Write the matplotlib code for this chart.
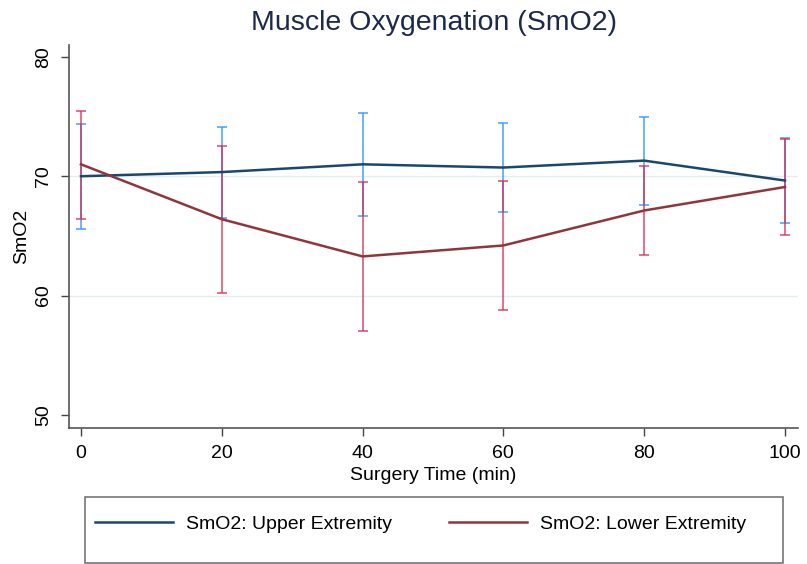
import matplotlib.pyplot as plt
from matplotlib.lines import Line2D
from matplotlib.patches import Rectangle

plt.rcParams['font.family'] = ['Liberation Sans', 'DejaVu Sans']

time = [0, 20, 40, 60, 80, 100]
upper_mean = [70.0, 70.35, 71.0, 70.73, 71.31, 69.64]
upper_lo = [65.6, 66.5, 66.7, 67.0, 67.6, 66.1]
upper_hi = [74.38, 74.1, 75.33, 74.43, 74.97, 73.2]
lower_mean = [71.0, 66.4, 63.28, 64.2, 67.13, 69.1]
lower_lo = [66.43, 60.18, 57.0, 58.8, 63.37, 65.06]
lower_hi = [75.5, 72.54, 69.52, 69.64, 70.9, 73.15]

xticks = [0, 20, 40, 60, 80, 100]
yticks = [50, 60, 70, 80]

navy = '#1a476f'
ci_blue = '#3399ff'
maroon = '#90353b'
ci_red = '#d62d55'

fig = plt.figure(figsize=(8.07, 5.64), dpi=100)
ax = fig.add_axes([69/807, 1-428/564, (798-69)/807, (428-45)/564])

for v in yticks[1:-1]:
    ax.axhline(v, color='#e3eef0', lw=1.0, zorder=0)

# confidence intervals
ax.vlines(time, upper_lo, upper_hi, color=ci_blue, lw=1.2, alpha=0.85, zorder=2)
ax.plot(time, upper_lo, '_', color=ci_blue, ms=7, mew=1.2, alpha=0.85, zorder=2)
ax.plot(time, upper_hi, '_', color=ci_blue, ms=7, mew=1.2, alpha=0.85, zorder=2)
ax.vlines(time, lower_lo, lower_hi, color=ci_red, lw=1.2, alpha=0.8, zorder=3)
ax.plot(time, lower_lo, '_', color=ci_red, ms=7, mew=1.2, alpha=0.8, zorder=3)
ax.plot(time, lower_hi, '_', color=ci_red, ms=7, mew=1.2, alpha=0.8, zorder=3)

ax.plot(time, upper_mean, color=navy, lw=1.8, zorder=4)
ax.plot(time, lower_mean, color=maroon, lw=1.8, zorder=4)

ax.set_xlim(-1.7, 101.85)
ax.set_ylim(48.9, 81.0)
ax.set_xticks(xticks)
ax.set_yticks(yticks)
ax.set_yticklabels([str(v) for v in yticks], rotation=90, va='center')
ax.tick_params(axis='both', labelsize=14, length=6, width=1, color='#444444', pad=6)
for s in ['top', 'right']:
    ax.spines[s].set_visible(False)
for s in ['left', 'bottom']:
    ax.spines[s].set_color('#555555')
    ax.spines[s].set_linewidth(1.2)
ax.set_xlabel('Surgery Time (min)', fontsize=14, labelpad=4)
ax.set_ylabel('SmO2', fontsize=14, labelpad=4)
fig.text(0.538, 1-23/564, 'Muscle Oxygenation (SmO2)', ha='center', va='center',
         fontsize=20.5, color='#1c2a4a')

# legend box
fig.patches.append(Rectangle((85/807, 1-563/564), (783-85)/807, (563-497)/564,
                             transform=fig.transFigure, fill=False,
                             edgecolor='#777777', lw=1.2))
handles = [Line2D([], [], color=navy, lw=1.8), Line2D([], [], color=maroon, lw=1.8)]
fig.legend(handles, ['SmO2: Upper Extremity', 'SmO2: Lower Extremity'],
           loc='center left', bbox_to_anchor=(77/807, 1-524/564), ncol=2,
           frameon=False, fontsize=14, handlelength=4.05, columnspacing=2.9,
           handletextpad=0.67)

fig.savefig('out.png', dpi=100, facecolor='white')
